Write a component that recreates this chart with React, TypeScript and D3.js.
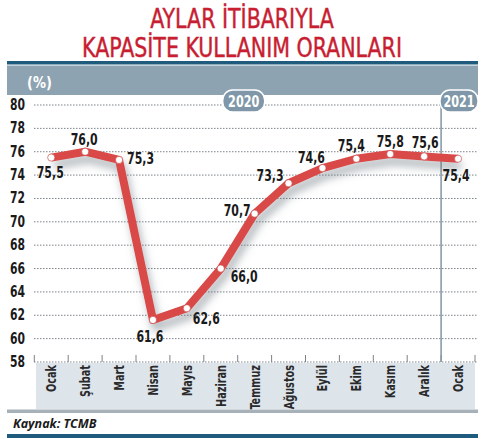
import { useEffect, useRef } from 'react';
import * as d3 from 'd3';

const months = ['Ocak', 'Şubat', 'Mart', 'Nisan', 'Mayıs', 'Haziran', 'Temmuz', 'Ağustos', 'Eylül', 'Ekim', 'Kasım', 'Aralık', 'Ocak'];
const values = [75.5, 76.0, 75.3, 61.6, 62.6, 66.0, 70.7, 73.3, 74.6, 75.4, 75.8, 75.6, 75.4];
const yTicks = [58, 60, 62, 64, 66, 68, 70, 72, 74, 76, 78, 80];
const yearMarks = [
  { label: '2020', index: 6, edge: false },
  { label: '2021', index: 12, edge: true },
];
const titleLines = ['AYLAR İTİBARIYLA', 'KAPASİTE KULLANIM ORANLARI'];
const source = 'Kaynak: TCMB';

// where each value label sits relative to its point
const labelPos: [number, number, string][] = [
  [-1, 20, 'middle'],
  [-1, -7, 'middle'],
  [8, 4, 'start'],
  [-3, 22, 'middle'],
  [6, 16, 'start'],
  [10, 13, 'start'],
  [-4, 2, 'end'],
  [-5, -2, 'end'],
  [-11, -5, 'middle'],
  [-5, -8, 'middle'],
  [0, -7, 'middle'],
  [1, -8, 'middle'],
  [-2, 22, 'middle'],
];

const W = 484;
const H = 439;
const COND = '"DejaVu Sans Condensed", "DejaVu Sans", sans-serif';
const RED = '#d84a47';

export default function App() {
  const ref = useRef<SVGSVGElement | null>(null);

  useEffect(() => {
    if (!ref.current) return;
    const svg = d3.select(ref.current);
    svg.selectAll('*').remove();

    const x = d3.scaleBand<number>().domain(d3.range(values.length)).range([34.3, 475]);
    const y = d3.scaleLinear().domain([58, 80]).range([362, 105]);
    const cx = (i: number) => (x(i) as number) + x.bandwidth() / 2;
    const fmt = (v: number) => d3.format('.1f')(v).replace('.', ',');

    const defs = svg.append('defs');
    const f = defs.append('filter').attr('id', 'shadow').attr('x', '-20%').attr('y', '-20%').attr('width', '140%').attr('height', '160%');
    f.append('feDropShadow')
      .attr('dx', 3)
      .attr('dy', 7)
      .attr('stdDeviation', 4)
      .attr('flood-color', '#6d7780')
      .attr('flood-opacity', 0.55);

    // Title
    svg
      .append('g')
      .selectAll('text')
      .data(titleLines)
      .enter()
      .append('text')
      .attr('transform', (_, i) => `translate(242,${28 + i * 29}) scale(0.88,1)`)
      .attr('text-anchor', 'middle')
      .attr('font-family', COND)
      .attr('font-size', 26)
      .attr('fill', '#c81e32')
      .attr('stroke', '#c81e32')
      .attr('stroke-width', 0.4)
      .text((d) => d);

    // header band
    svg.append('rect').attr('x', 7).attr('y', 61).attr('width', 471).attr('height', 3.5).attr('fill', '#1f5b7c');
    svg.append('rect').attr('x', 7).attr('y', 65.5).attr('width', 471).attr('height', 29.5).attr('fill', '#8ea3b2');
    svg
      .append('text')
      .attr('transform', 'translate(27,88) scale(0.9,1)')
      .attr('font-family', COND)
      .attr('font-weight', 'bold')
      .attr('font-size', 16)
      .attr('fill', '#fff')
      .text('(%)');

    // bottom month band
    svg.append('rect').attr('x', 36).attr('y', 363).attr('width', 439).attr('height', 46).attr('fill', '#dde4ea');

    // grid
    const grid = svg.append('g');
    grid
      .selectAll('line')
      .data(yTicks)
      .enter()
      .append('line')
      .attr('x1', 34)
      .attr('x2', 477)
      .attr('y1', (d) => y(d))
      .attr('y2', (d) => y(d))
      .attr('stroke', '#7c8389')
      .attr('stroke-width', 1)
      .attr('stroke-dasharray', '1.5,1.5');
    grid
      .selectAll('text')
      .data(yTicks)
      .enter()
      .append('text')
      .attr('transform', (d) => `translate(25,${y(d) + 5}) scale(0.8,1)`)
      .attr('text-anchor', 'end')
      .attr('font-family', COND)
      .attr('font-weight', 'bold')
      .attr('font-size', 15)
      .attr('fill', '#1a1a1a')
      .text((d) => d);

    // x ticks
    const bounds = d3.range(values.length + 1).map((i) => (i < values.length ? (x(i) as number) : x.range()[1]));
    svg
      .append('g')
      .selectAll('line')
      .data(bounds)
      .enter()
      .append('line')
      .attr('x1', (d) => d)
      .attr('x2', (d) => d)
      .attr('y1', y(58))
      .attr('y2', y(58) - 7)
      .attr('stroke', '#7c8389')
      .attr('stroke-width', 1);

    // month labels
    svg
      .append('g')
      .selectAll('text')
      .data(months)
      .enter()
      .append('text')
      .attr('transform', (_, i) => `translate(${cx(i) + 5},365) rotate(-90) scale(0.8,1)`)
      .attr('text-anchor', 'end')
      .attr('font-family', COND)
      .attr('font-weight', 'bold')
      .attr('font-size', 13.5)
      .attr('fill', '#2a2a2a')
      .text((d) => d);

    // year separator line
    const sepX = x(12) as number;
    svg
      .append('line')
      .attr('x1', sepX)
      .attr('x2', sepX)
      .attr('y1', 105)
      .attr('y2', y(58))
      .attr('stroke', '#8295a4')
      .attr('stroke-width', 1.5);

    // year pills
    const pills = svg
      .append('g')
      .selectAll('g')
      .data(yearMarks)
      .enter()
      .append('g')
      .attr('transform', (d) => `translate(${d.edge ? 459 : (x(d.index) as number) + 6},101)`);
    pills
      .append('rect')
      .attr('x', (d) => (d.edge ? -19 : -21))
      .attr('y', -11)
      .attr('width', (d) => (d.edge ? 38 : 42))
      .attr('height', 22)
      .attr('rx', 10)
      .attr('fill', '#7f97a8')
      .attr('stroke', '#fff')
      .attr('stroke-width', 1.5);
    pills
      .append('text')
      .attr('transform', 'translate(0,6) scale(0.78,1)')
      .attr('text-anchor', 'middle')
      .attr('font-family', COND)
      .attr('font-weight', 'bold')
      .attr('font-size', 16)
      .attr('fill', '#fff')
      .text((d) => d.label);

    // line
    const line = d3
      .line<number>()
      .x((_, i) => cx(i))
      .y((d) => y(d));
    svg
      .append('path')
      .attr('d', line(values)!)
      .attr('fill', 'none')
      .attr('stroke', RED)
      .attr('stroke-width', 8)
      .attr('stroke-linejoin', 'round')
      .attr('filter', 'url(#shadow)');

    svg
      .append('g')
      .selectAll('circle')
      .data(values)
      .enter()
      .append('circle')
      .attr('cx', (_, i) => cx(i))
      .attr('cy', (d) => y(d))
      .attr('r', 3.6)
      .attr('fill', '#fff')
      .attr('stroke', '#c43838')
      .attr('stroke-width', 0.6);

    svg
      .append('g')
      .selectAll('text')
      .data(values)
      .enter()
      .append('text')
      .attr('transform', (d, i) => `translate(${cx(i) + labelPos[i][0]},${y(d) + labelPos[i][1]}) scale(0.76,1)`)
      .attr('text-anchor', (_, i) => labelPos[i][2])
      .attr('font-family', COND)
      .attr('font-weight', 'bold')
      .attr('font-size', 16)
      .attr('fill', '#1a1a1a')
      .text((d) => fmt(d));

    // footer
    svg.append('rect').attr('x', 7).attr('y', 409.5).attr('width', 471).attr('height', 3.5).attr('fill', '#a7b1b9');
    svg
      .append('text')
      .attr('x', 13)
      .attr('y', 428)
      .attr('font-family', '"Open Sans", "DejaVu Sans", sans-serif')
      .attr('font-weight', 'bold')
      .attr('font-style', 'italic')
      .attr('font-size', 12.5)
      .attr('fill', '#1a1a1a')
      .text(source);
    svg.append('rect').attr('x', 7).attr('y', 434).attr('width', 471).attr('height', 4).attr('fill', '#1f5b7c');
  }, []);

  return (
    <svg
      ref={ref}
      width={W}
      height={H}
      style={{ position: 'absolute', left: 0, top: 0, background: '#fff', display: 'block' }}
    />
  );
}
